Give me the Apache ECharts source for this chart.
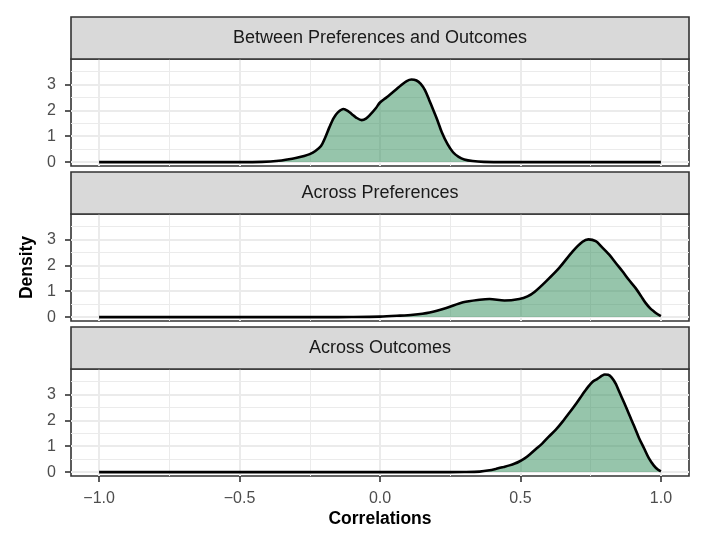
<!DOCTYPE html>
<html>
<head>
<meta charset="utf-8">
<script src="https://cdn.jsdelivr.net/npm/echarts@6/dist/echarts.min.js"></script>
<style>
html,body{margin:0;padding:0;background:#fff;}
#chart{width:706px;height:543px;}
</style>
</head>
<body>
<div id="chart"></div>
<script>
// ---- data ----
const panelTitles = ['Between Preferences and Outcomes', 'Across Preferences', 'Across Outcomes'];
const xTicks = [-1, -0.5, 0, 0.5, 1];
const xMinor = [-0.75, -0.25, 0.25, 0.75];
const yTicks = [0, 1, 2, 3];
const yMinor = [0.5, 1.5, 2.5, 3.5];

const xBetween = [-1.0, -0.5, -0.42, -0.36, -0.33, -0.30, -0.27, -0.25, -0.23, -0.21, -0.195, -0.18, -0.165, -0.15, -0.13, -0.115, -0.10, -0.085, -0.065, -0.05, -0.035, -0.015, 0.0, 0.02, 0.035, 0.055, 0.075, 0.095, 0.112, 0.13, 0.145, 0.16, 0.175, 0.19, 0.205, 0.22, 0.24, 0.26, 0.28, 0.30, 0.33, 0.37, 0.45, 1.0];
const dBetween = [0, 0, 0.01, 0.05, 0.1, 0.16, 0.24, 0.31, 0.43, 0.62, 0.95, 1.35, 1.7, 1.92, 2.05, 1.98, 1.85, 1.72, 1.62, 1.68, 1.83, 2.08, 2.3, 2.47, 2.6, 2.78, 2.97, 3.13, 3.19, 3.15, 3.02, 2.78, 2.4, 2.0, 1.6, 1.15, 0.7, 0.38, 0.2, 0.1, 0.04, 0.01, 0, 0];

const xPrefs = [-1.0, -0.2, -0.1, 0.0, 0.06, 0.118, 0.177, 0.236, 0.296, 0.355, 0.39, 0.443, 0.496, 0.525, 0.55, 0.591, 0.638, 0.686, 0.721, 0.742, 0.768, 0.79, 0.816, 0.84, 0.863, 0.885, 0.91, 0.93, 0.946, 0.962, 0.975, 0.99, 1.0];
const dPrefs = [0, 0, 0.005, 0.02, 0.05, 0.09, 0.18, 0.35, 0.57, 0.67, 0.70, 0.64, 0.70, 0.8, 0.97, 1.38, 1.90, 2.54, 2.91, 3.0, 2.93, 2.7, 2.41, 2.08, 1.77, 1.45, 1.12, 0.8, 0.54, 0.34, 0.22, 0.1, 0.04];

const xOutcomes = [-1.0, 0.2, 0.3, 0.355, 0.39, 0.414, 0.44, 0.461, 0.48, 0.496, 0.515, 0.532, 0.555, 0.579, 0.6, 0.626, 0.65, 0.674, 0.7, 0.721, 0.74, 0.757, 0.774, 0.79, 0.80, 0.812, 0.825, 0.84, 0.851, 0.87, 0.887, 0.905, 0.922, 0.94, 0.957, 0.975, 0.99, 1.0];
const dOutcomes = [0, 0, 0.005, 0.02, 0.07, 0.13, 0.2, 0.26, 0.33, 0.41, 0.53, 0.67, 0.89, 1.12, 1.36, 1.64, 1.95, 2.29, 2.67, 3.0, 3.28, 3.49, 3.6, 3.72, 3.77, 3.76, 3.65, 3.4, 3.12, 2.66, 2.22, 1.77, 1.32, 0.92, 0.54, 0.25, 0.09, 0.03];

const panelX = [xBetween, xPrefs, xOutcomes];
const panelD = [dBetween, dPrefs, dOutcomes];

// ---- layout / style ----
const gridTops = [59, 214, 369];
const gridH = 107;
const stripH = 42;
const LEFT = 71, RIGHT = 17, WIDTH = 618;
const FONT = '"Liberation Sans", Arial, Helvetica, sans-serif';

function fmtX(v) {
  return (v < 0 ? '\u2212' : '') + Math.abs(v).toFixed(1);
}

const grids = [], xAxes = [], yAxes = [], series = [], graphics = [];
for (let i = 0; i < 3; i++) {
  grids.push({
    left: LEFT, right: RIGHT, top: gridTops[i], height: gridH,
    show: true, borderColor: '#333333', borderWidth: 1.6, backgroundColor: '#ffffff', z: 0
  });
  const isLast = i === 2;
  xAxes.push({
    type: 'value', gridIndex: i, min: -1.1, max: 1.1, position: 'bottom', z: 0,
    axisLine: { show: false, onZero: false },
    axisTick: { show: isLast, customValues: xTicks, length: 6, lineStyle: { color: '#333333', width: 1.6 } },
    axisLabel: { show: isLast, customValues: xTicks, formatter: fmtX, color: '#4D4D4D', fontSize: 16, fontFamily: FONT, margin: 15 },
    splitLine: { show: true, lineStyle: { color: '#EBEBEB', width: 2 } },
    name: isLast ? 'Correlations' : '',
    nameLocation: 'middle', nameGap: 34,
    nameTextStyle: { color: '#000000', fontSize: 17.5, fontWeight: 'bold', fontFamily: FONT }
  });
  yAxes.push({
    type: 'value', gridIndex: i, min: -0.15, max: 3.98, position: 'left', z: 0,
    axisLine: { show: false, onZero: false },
    axisTick: { show: true, customValues: yTicks, length: 6, lineStyle: { color: '#333333', width: 1.6 } },
    axisLabel: { show: true, customValues: yTicks, color: '#4D4D4D', fontSize: 16, fontFamily: FONT, margin: 15 },
    splitLine: { show: true, lineStyle: { color: '#EBEBEB', width: 2 } },
    name: i === 1 ? 'Density' : '',
    nameLocation: 'middle', nameGap: 34, nameRotate: 90,
    nameTextStyle: { color: '#000000', fontSize: 17.5, fontWeight: 'bold', fontFamily: FONT }
  });
  const pts = panelX[i].map((x, k) => [x, panelD[i][k]]);
  // minor grid lines
  series.push({
    type: 'line', xAxisIndex: i, yAxisIndex: i, data: pts, z: 1, silent: true,
    showSymbol: false, lineStyle: { opacity: 0 }, animation: false,
    markLine: {
      z: 1, silent: true, symbol: 'none', animation: false,
      label: { show: false },
      lineStyle: { color: '#EBEBEB', width: 1, type: 'solid' },
      emphasis: { disabled: true },
      data: yMinor.map(v => ({ yAxis: v })).concat(xMinor.map(v => ({ xAxis: v })))
    }
  });
  // density
  series.push({
    type: 'line', xAxisIndex: i, yAxisIndex: i, data: pts, z: 6,
    smooth: 0.3, showSymbol: false, animation: false,
    lineStyle: { color: '#000000', width: 2.6 },
    areaStyle: { color: 'rgba(46,139,87,0.5)', opacity: 1, origin: 0 }
  });
  // strip
  graphics.push({
    type: 'rect', z: 10,
    shape: { x: LEFT, y: gridTops[i] - stripH, width: WIDTH, height: stripH },
    style: { fill: '#D9D9D9', stroke: '#333333', lineWidth: 1.6 }
  });
  graphics.push({
    type: 'text', z: 11,
    x: LEFT + WIDTH / 2, y: gridTops[i] - stripH / 2,
    style: { text: panelTitles[i], fill: '#1A1A1A', fontSize: 18, fontFamily: FONT, align: 'center', verticalAlign: 'middle' }
  });
}

const chart = echarts.init(document.getElementById('chart'), null, { renderer: 'canvas' });
chart.setOption({
  backgroundColor: '#ffffff',
  animation: false,
  grid: grids,
  xAxis: xAxes,
  yAxis: yAxes,
  series: series,
  graphic: graphics
});
</script>
</body>
</html>
